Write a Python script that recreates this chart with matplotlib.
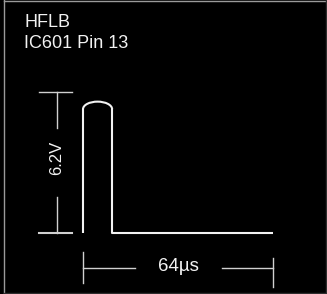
import matplotlib
matplotlib.use("Agg")
import matplotlib.pyplot as plt
from matplotlib.patches import Arc
from matplotlib.lines import Line2D

# waveform (time in us, level in V)
RISE_T = [0.0, 0.0]
RISE_V = [0.0, 5.45]
FALL_T = [9.8, 9.8, 64.0]
FALL_V = [5.45, 0.0, 0.0]
ARC_CENTER = (4.9, 5.45)
ARC_HEIGHT = 0.66

# dimension markers
AMPLITUDE = 6.2
PERIOD = 64.0
AMP_LABEL = "6.2V"
PERIOD_LABEL = "64\u00b5s"
TITLE_LINES = ["HFLB", "IC601 Pin 13"]

FG = "#f2f2f2"
DIM = "#d0d0d0"

plt.rcParams['font.family'] = ['Liberation Sans', 'DejaVu Sans']

fig = plt.figure(figsize=(3.27, 2.94), dpi=100, facecolor="black")
ax = fig.add_axes([0, 0, 1, 1])
ax.set_facecolor("black")
ax.set_xlim(-27.96, 82.18)
ax.set_ylim(-2.68, 10.25)
ax.axis("off")

# frame: bright left/top, faint right/bottom
W, H = 327.0, 294.0
for xs, ys, c in [([3.5, 3.5], [0, H], "#9a9a9a"),
                  ([3.5, W], [H - 0.5, H - 0.5], "#9a9a9a"),
                  ([W - 1.5, W - 1.5], [0, H], "#2e2e2e"),
                  ([3.5, W], [1.0, 1.0], "#2e2e2e")]:
    fig.lines.append(Line2D([x / W for x in xs], [y / H for y in ys],
                            transform=fig.transFigure, color=c, lw=1))

# pulse
ax.plot(RISE_T, RISE_V, color=FG, lw=1.5, solid_capstyle="butt")
ax.plot(FALL_T, FALL_V, color=FG, lw=1.5, solid_capstyle="butt")
ax.add_patch(Arc(ARC_CENTER, FALL_T[0] - RISE_T[0], ARC_HEIGHT,
                 theta1=0, theta2=180, color=FG, lw=1.5))

# amplitude dimension
xv = -8.76
ax.plot([-14.8, -3.7], [AMPLITUDE, AMPLITUDE], color=DIM, lw=1)
ax.plot([-14.8, -3.7], [0, 0], color=DIM, lw=1.5)
ax.plot([xv, xv], [AMPLITUDE, 4.62], color=DIM, lw=1)
ax.plot([xv, xv], [1.58, 0], color=DIM, lw=1)
ax.text(xv, 3.3, AMP_LABEL, rotation=90, ha="center", va="center",
        color=FG, fontsize=12)

# period dimension
yh = -1.54
ax.plot([0, 0], [-0.84, -2.2], color=DIM, lw=1)
ax.plot([PERIOD, PERIOD], [-1.1, -2.37], color=DIM, lw=1)
ax.plot([0, 17.5], [yh, yh], color=DIM, lw=1)
ax.plot([46.8, PERIOD], [yh, yh], color=DIM, lw=1)
ax.text(PERIOD / 2, -1.47, PERIOD_LABEL, ha="center", va="center",
        color=FG, fontsize=13.5)

# caption
fig.text(24 / W, 1 - 27 / H, TITLE_LINES[0], color=FG, fontsize=13,
         ha="left", va="baseline")
fig.text(24 / W, 1 - 48 / H, TITLE_LINES[1], color=FG, fontsize=13,
         ha="left", va="baseline")

fig.savefig("out.png", dpi=100, facecolor="black")
